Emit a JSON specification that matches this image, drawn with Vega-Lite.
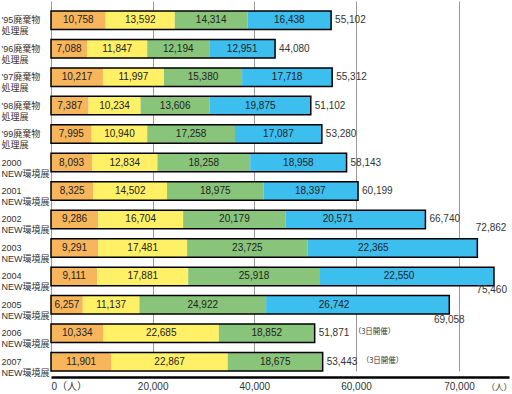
{
  "$schema": "https://vega.github.io/schema/vega-lite/v6.json",
  "width": 458,
  "height": 377,
  "autosize": {"type": "none"},
  "padding": {"left": 51, "top": 0, "right": 3, "bottom": 17},
  "background": "white",
  "config": {"view": {"stroke": null}},
  "datasets": {
    "days": [
      {"year": "'95廃棄物 処理展", "day": "1日目", "value": 10758},
      {"year": "'95廃棄物 処理展", "day": "2日目", "value": 13592},
      {"year": "'95廃棄物 処理展", "day": "3日目", "value": 14314},
      {"year": "'95廃棄物 処理展", "day": "4日目", "value": 16438},
      {"year": "'96廃棄物 処理展", "day": "1日目", "value": 7088},
      {"year": "'96廃棄物 処理展", "day": "2日目", "value": 11847},
      {"year": "'96廃棄物 処理展", "day": "3日目", "value": 12194},
      {"year": "'96廃棄物 処理展", "day": "4日目", "value": 12951},
      {"year": "'97廃棄物 処理展", "day": "1日目", "value": 10217},
      {"year": "'97廃棄物 処理展", "day": "2日目", "value": 11997},
      {"year": "'97廃棄物 処理展", "day": "3日目", "value": 15380},
      {"year": "'97廃棄物 処理展", "day": "4日目", "value": 17718},
      {"year": "'98廃棄物 処理展", "day": "1日目", "value": 7387},
      {"year": "'98廃棄物 処理展", "day": "2日目", "value": 10234},
      {"year": "'98廃棄物 処理展", "day": "3日目", "value": 13606},
      {"year": "'98廃棄物 処理展", "day": "4日目", "value": 19875},
      {"year": "'99廃棄物 処理展", "day": "1日目", "value": 7995},
      {"year": "'99廃棄物 処理展", "day": "2日目", "value": 10940},
      {"year": "'99廃棄物 処理展", "day": "3日目", "value": 17258},
      {"year": "'99廃棄物 処理展", "day": "4日目", "value": 17087},
      {"year": "2000 NEW環境展", "day": "1日目", "value": 8093},
      {"year": "2000 NEW環境展", "day": "2日目", "value": 12834},
      {"year": "2000 NEW環境展", "day": "3日目", "value": 18258},
      {"year": "2000 NEW環境展", "day": "4日目", "value": 18958},
      {"year": "2001 NEW環境展", "day": "1日目", "value": 8325},
      {"year": "2001 NEW環境展", "day": "2日目", "value": 14502},
      {"year": "2001 NEW環境展", "day": "3日目", "value": 18975},
      {"year": "2001 NEW環境展", "day": "4日目", "value": 18397},
      {"year": "2002 NEW環境展", "day": "1日目", "value": 9286},
      {"year": "2002 NEW環境展", "day": "2日目", "value": 16704},
      {"year": "2002 NEW環境展", "day": "3日目", "value": 20179},
      {"year": "2002 NEW環境展", "day": "4日目", "value": 20571},
      {"year": "2003 NEW環境展", "day": "1日目", "value": 9291},
      {"year": "2003 NEW環境展", "day": "2日目", "value": 17481},
      {"year": "2003 NEW環境展", "day": "3日目", "value": 23725},
      {"year": "2003 NEW環境展", "day": "4日目", "value": 22365},
      {"year": "2004 NEW環境展", "day": "1日目", "value": 9111},
      {"year": "2004 NEW環境展", "day": "2日目", "value": 17881},
      {"year": "2004 NEW環境展", "day": "3日目", "value": 25918},
      {"year": "2004 NEW環境展", "day": "4日目", "value": 22550},
      {"year": "2005 NEW環境展", "day": "1日目", "value": 6257},
      {"year": "2005 NEW環境展", "day": "2日目", "value": 11137},
      {"year": "2005 NEW環境展", "day": "3日目", "value": 24922},
      {"year": "2005 NEW環境展", "day": "4日目", "value": 26742},
      {"year": "2006 NEW環境展", "day": "1日目", "value": 10334},
      {"year": "2006 NEW環境展", "day": "2日目", "value": 22685},
      {"year": "2006 NEW環境展", "day": "3日目", "value": 18852},
      {"year": "2007 NEW環境展", "day": "1日目", "value": 11901},
      {"year": "2007 NEW環境展", "day": "2日目", "value": 22867},
      {"year": "2007 NEW環境展", "day": "3日目", "value": 18675}
    ],
    "notes": [
      {"year": "2006 NEW環境展", "note": "（3日開催）"},
      {"year": "2007 NEW環境展", "note": "（3日開催）"}
    ]
  },
  "encoding": {
    "y": {
      "field": "year",
      "type": "nominal",
      "sort": null,
      "title": null,
      "scale": {
        "domain": ["'95廃棄物 処理展", "'96廃棄物 処理展", "'97廃棄物 処理展", "'98廃棄物 処理展", "'99廃棄物 処理展", "2000 NEW環境展", "2001 NEW環境展", "2002 NEW環境展", "2003 NEW環境展", "2004 NEW環境展", "2005 NEW環境展", "2006 NEW環境展", "2007 NEW環境展"],
        "range": [6, 376],
        "paddingInner": 0.35,
        "paddingOuter": 0.175
      },
      "axis": {
        "domain": false,
        "ticks": false,
        "tickSize": 0,
        "grid": false,
        "labelAlign": "left",
        "labelBaseline": "middle",
        "labelPadding": 50,
        "labelFont": "Liberation Sans, Noto Sans CJK JP",
        "labelFontSize": 9,
        "labelLineHeight": 11,
        "labelColor": "#333333",
        "labelExpr": "split(datum.label, ' ')"
      }
    }
  },
  "layer": [
    {
      "data": {"name": "days"},
      "mark": {"type": "bar"},
      "encoding": {
        "x": {
          "field": "value",
          "type": "quantitative",
          "stack": "zero",
          "scale": {"domain": [0, 60000, 70000, 77800], "range": [0, 305, 408, 458], "nice": false, "zero": true},
          "axis": {
            "values": [0, 20000, 40000, 60000, 70000],
            "labelExpr": "datum.value == 0 ? '0（人）' : format(datum.value, ',')",
            "labelFlush": true,
            "grid": true,
            "gridColor": "#999999",
            "gridWidth": 1,
            "ticks": false,
            "domainColor": "#000000",
            "domainWidth": 2.5,
            "labelPadding": 4,
            "labelFont": "Liberation Sans, Noto Sans CJK JP",
            "labelFontSize": 10,
            "labelColor": "#333333",
            "title": "（人）",
            "titleFont": "Noto Sans CJK JP",
            "titleFontSize": 8.5,
            "titleFontWeight": "normal",
            "titleColor": "#333333",
            "titleX": 435,
            "titleY": 9,
            "titleAlign": "left",
            "titleBaseline": "middle"
          }
        },
        "color": {
          "field": "day",
          "type": "nominal",
          "legend": null,
          "scale": {"domain": ["1日目", "2日目", "3日目", "4日目"], "range": ["#F7B55C", "#FFF066", "#88C47A", "#3CBEEF"]}
        },
        "order": {"field": "day", "sort": "ascending"}
      }
    },
    {
      "data": {"name": "days"},
      "mark": {"type": "bar", "fillOpacity": 0, "stroke": "#000000", "strokeWidth": 1.5},
      "encoding": {
        "x": {"aggregate": "sum", "field": "value", "type": "quantitative"}
      }
    },
    {
      "data": {"name": "days"},
      "transform": [
        {"stack": "value", "groupby": ["year"], "sort": [{"field": "day", "order": "ascending"}], "as": ["v0", "v1"]},
        {"calculate": "(datum.v0 + datum.v1) / 2", "as": "mid"}
      ],
      "mark": {"type": "text", "font": "Liberation Sans", "fontSize": 10, "color": "#222222", "baseline": "middle", "align": "center"},
      "encoding": {
        "x": {"field": "mid", "type": "quantitative"},
        "text": {"field": "value", "type": "quantitative", "format": ","}
      }
    },
    {
      "data": {"name": "days"},
      "transform": [
        {"aggregate": [{"op": "sum", "field": "value", "as": "total"}], "groupby": ["year"]},
        {"filter": "indexof(datum.year, '2003') != 0 && indexof(datum.year, '2004') != 0 && indexof(datum.year, '2005') != 0"}
      ],
      "mark": {"type": "text", "font": "Liberation Sans", "fontSize": 10, "color": "#333333", "baseline": "middle", "align": "left", "dx": 4},
      "encoding": {
        "x": {"field": "total", "type": "quantitative"},
        "text": {"field": "total", "type": "quantitative", "format": ","}
      }
    },
    {
      "data": {"name": "days"},
      "transform": [
        {"aggregate": [{"op": "sum", "field": "value", "as": "total"}], "groupby": ["year"]},
        {"filter": "indexof(datum.year, '2003') == 0"}
      ],
      "mark": {"type": "text", "font": "Liberation Sans", "fontSize": 10, "color": "#333333", "baseline": "middle", "align": "right", "dx": 29, "dy": -20},
      "encoding": {
        "x": {"field": "total", "type": "quantitative"},
        "text": {"field": "total", "type": "quantitative", "format": ","}
      }
    },
    {
      "data": {"name": "days"},
      "transform": [
        {"aggregate": [{"op": "sum", "field": "value", "as": "total"}], "groupby": ["year"]},
        {"filter": "indexof(datum.year, '2004') == 0"}
      ],
      "mark": {"type": "text", "font": "Liberation Sans", "fontSize": 10, "color": "#333333", "baseline": "middle", "align": "right", "dx": 13, "dy": 14},
      "encoding": {
        "x": {"field": "total", "type": "quantitative"},
        "text": {"field": "total", "type": "quantitative", "format": ","}
      }
    },
    {
      "data": {"name": "days"},
      "transform": [
        {"aggregate": [{"op": "sum", "field": "value", "as": "total"}], "groupby": ["year"]},
        {"filter": "indexof(datum.year, '2005') == 0"}
      ],
      "mark": {"type": "text", "font": "Liberation Sans", "fontSize": 10, "color": "#333333", "baseline": "middle", "align": "center", "dx": 0, "dy": 15},
      "encoding": {
        "x": {"field": "total", "type": "quantitative"},
        "text": {"field": "total", "type": "quantitative", "format": ","}
      }
    },
    {
      "data": {"name": "days"},
      "transform": [
        {"aggregate": [{"op": "sum", "field": "value", "as": "total"}], "groupby": ["year"]},
        {"lookup": "year", "from": {"data": {"name": "notes"}, "key": "year", "fields": ["note"]}},
        {"filter": "isValid(datum.note)"}
      ],
      "mark": {"type": "text", "font": "Noto Sans CJK JP", "fontSize": 7.5, "color": "#333333", "baseline": "middle", "align": "left", "dx": 39, "dy": -1},
      "encoding": {
        "x": {"field": "total", "type": "quantitative"},
        "text": {"field": "note", "type": "nominal"}
      }
    },
    {
      "data": {"values": [{}]},
      "mark": {"type": "rule", "color": "#000000", "strokeWidth": 3},
      "encoding": {
        "x": {"datum": 0, "type": "quantitative"}
      }
    }
  ]
}
